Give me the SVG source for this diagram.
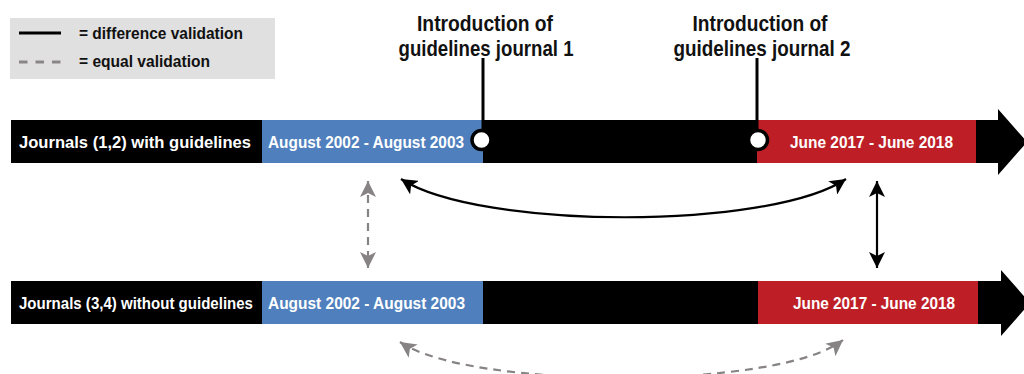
<svg xmlns="http://www.w3.org/2000/svg" width="1024" height="374" viewBox="0 0 1024 374">
<style>
text{font-family:"Liberation Sans",Arial,sans-serif;font-weight:bold}
.w{fill:#fff;font-size:17px}
.k{fill:#000}
.blue{fill:#4f80bd}
.red{fill:#be1f26}
.lbl{font-size:22px;fill:#111;text-anchor:middle}
.leg{font-size:16px;fill:#111}
.solid{stroke:#000;stroke-width:2.2;fill:none}
.dash{stroke:#878283;stroke-width:2.2;fill:none;stroke-dasharray:8 6}
</style>
<defs>
<marker id="ak" markerUnits="userSpaceOnUse" markerWidth="16" markerHeight="16" refX="16" refY="8" orient="auto-start-reverse" viewBox="0 0 16 16"><path d="M0,0 L16,8 L0,16 L4,8 z" fill="#000"/></marker>
<marker id="ag" markerUnits="userSpaceOnUse" markerWidth="16" markerHeight="16" refX="16" refY="8" orient="auto-start-reverse" viewBox="0 0 16 16"><path d="M0,0 L16,8 L0,16 L4,8 z" fill="#878283"/></marker>
</defs>
<g id="legend">
<rect x="10" y="18" width="265" height="61" fill="#e0e0e0"/>
<line x1="19" y1="33" x2="61" y2="33" stroke="#000" stroke-width="3"/>
<line x1="19" y1="62" x2="61" y2="62" stroke="#8a8586" stroke-width="3" stroke-dasharray="8.5 8"/>
<text class="leg" x="79" y="38.5" textLength="164" lengthAdjust="spacingAndGlyphs">= difference validation</text>
<text class="leg" x="79" y="67" textLength="131" lengthAdjust="spacingAndGlyphs">= equal validation</text>
</g>
<g id="bar-with">
<polygon class="k" points="11,120 998,120 998,109 1027,142 998,175 998,163 11,163"/>
<rect class="blue" x="262" y="120" width="221" height="43"/>
<rect class="red" x="757" y="120" width="219" height="43"/>
<text class="w" x="19" y="147.5" textLength="232" lengthAdjust="spacingAndGlyphs">Journals (1,2) with guidelines</text>
<text class="w" x="268" y="147.5" textLength="196" lengthAdjust="spacingAndGlyphs">August 2002 - August 2003</text>
<text class="w" x="790" y="147.5" textLength="163" lengthAdjust="spacingAndGlyphs">June 2017 - June 2018</text>
</g>
<g id="intro-1">
<line x1="483" y1="58" x2="483" y2="131" stroke="#000" stroke-width="3"/>
<circle cx="481.5" cy="140" r="9.5" fill="#fff" stroke="#000" stroke-width="3.5"/>
<text class="lbl" x="485" y="31" textLength="136" lengthAdjust="spacingAndGlyphs">Introduction of</text>
<text class="lbl" x="486" y="56" textLength="175" lengthAdjust="spacingAndGlyphs">guidelines journal 1</text>
</g>
<g id="intro-2">
<line x1="757" y1="58" x2="757" y2="131" stroke="#000" stroke-width="3"/>
<circle cx="758" cy="140" r="9.5" fill="#fff" stroke="#000" stroke-width="3.5"/>
<text class="lbl" x="760" y="31" textLength="135" lengthAdjust="spacingAndGlyphs">Introduction of</text>
<text class="lbl" x="762" y="56" textLength="177" lengthAdjust="spacingAndGlyphs">guidelines journal 2</text>
</g>
<g id="bar-without">
<polygon class="k" points="11,281 1001,281 1001,270 1030,303 1001,336 1001,324 11,324"/>
<rect class="blue" x="262" y="281" width="221" height="43"/>
<rect class="red" x="758" y="281" width="220" height="43"/>
<text class="w" x="19" y="308.5" textLength="234" lengthAdjust="spacingAndGlyphs">Journals (3,4) without guidelines</text>
<text class="w" x="268" y="308.5" textLength="197" lengthAdjust="spacingAndGlyphs">August 2002 - August 2003</text>
<text class="w" x="793" y="308.5" textLength="162" lengthAdjust="spacingAndGlyphs">June 2017 - June 2018</text>
</g>
<g id="connectors">
<line class="dash" x1="368" y1="181" x2="368" y2="268" marker-start="url(#ag)" marker-end="url(#ag)"/>
<path class="solid" d="M401,179 C480,230 770,230 846,179" marker-start="url(#ak)" marker-end="url(#ak)"/>
<line class="solid" x1="877" y1="181" x2="877" y2="268" marker-start="url(#ak)" marker-end="url(#ak)"/>
<path class="dash" d="M400,342 C470,390 780,390 843,340" marker-start="url(#ag)" marker-end="url(#ag)"/>
</g>
</svg>
